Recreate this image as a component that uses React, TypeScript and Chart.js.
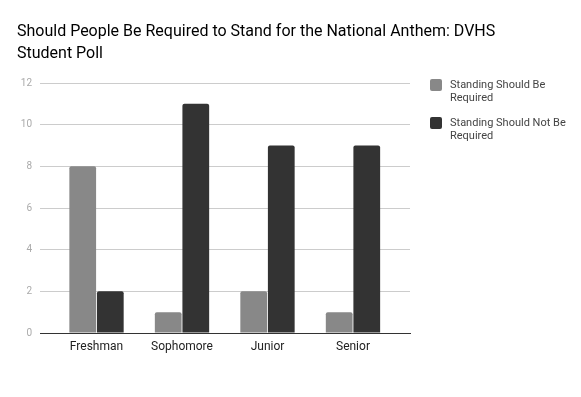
import React, { useEffect, useRef } from "react";
import { Chart, registerables } from "chart.js";

Chart.register(...registerables);

const categories = ["Freshman", "Sophomore", "Junior", "Senior"];
const requiredValues = [8, 1, 2, 1];
const notRequiredValues = [2, 11, 9, 9];
const seriesLabels = ["Standing Should Be Required", "Standing Should Not Be Required"];
const seriesColors = ["#888888", "#333333"];
const titleLines = [
  "Should People Be Required to Stand for the National Anthem: DVHS",
  "Student Poll",
];
const yTicks = [0, 2, 4, 6, 8, 10, 12];

const FONT = "Roboto";

function wrapText(ctx: CanvasRenderingContext2D, text: string, maxWidth: number): string[] {
  const words = text.split(" ");
  const lines: string[] = [];
  let cur = "";
  for (const w of words) {
    const test = cur ? cur + " " + w : w;
    if (ctx.measureText(test).width > maxWidth && cur) {
      lines.push(cur);
      cur = w;
    } else {
      cur = test;
    }
  }
  if (cur) lines.push(cur);
  return lines;
}

const titleAndLegend = {
  id: "titleAndLegend",
  afterDraw(chart: any) {
    const ctx = chart.ctx as CanvasRenderingContext2D;
    ctx.save();
    // title
    ctx.font = `16px ${FONT}`;
    ctx.fillStyle = "#000000";
    ctx.textBaseline = "alphabetic";
    ctx.textAlign = "left";
    titleLines.forEach((ln, i) => ctx.fillText(ln, 17, 36 + i * 22));
    // legend
    ctx.font = `11px ${FONT}`;
    ctx.textBaseline = "middle";
    const boxX = 430;
    const textX = 450;
    let y = 79;
    chart.data.datasets.forEach((ds: any) => {
      ctx.fillStyle = ds.backgroundColor;
      ctx.beginPath();
      (ctx as any).roundRect(boxX, y, 12, 12, 2);
      ctx.fill();
      ctx.fillStyle = "#444444";
      const lines = wrapText(ctx, ds.label, 122);
      lines.forEach((ln, i) => {
        ctx.fillText(ln, textX, y + 6 + i * 13);
      });
      y += 38;
    });
    ctx.restore();
  },
};

export default function App() {
  const ref = useRef<HTMLCanvasElement | null>(null);

  useEffect(() => {
    if (!ref.current) return;
    const mk = (vals: number[]) => vals.map((v, i) => ({ x: i, y: v }));
    const barStyle = {
      borderRadius: { topLeft: 2, topRight: 2, bottomLeft: 0, bottomRight: 0 },
      borderSkipped: false,
      categoryPercentage: 0.645,
      barPercentage: 0.97,
    };
    const chart = new Chart(ref.current, {
      type: "bar",
      data: {
        datasets: [
          { label: seriesLabels[0], data: mk(requiredValues), backgroundColor: seriesColors[0], ...barStyle },
          { label: seriesLabels[1], data: mk(notRequiredValues), backgroundColor: seriesColors[1], ...barStyle },
        ],
      },
      options: {
        responsive: false,
        animation: false,
        layout: { padding: { left: 17, right: 171, top: 83, bottom: 40 } },
        plugins: {
          legend: { display: false },
          tooltip: { enabled: false },
          title: { display: false },
        },
        scales: {
          x: {
            type: "linear",
            offset: false,
            min: -0.661,
            max: 3.667,
            grid: { display: false, drawTicks: false },
            border: { display: true, color: "#333333", width: 1 },
            afterBuildTicks: (scale: any) => {
              scale.ticks = categories.map((_, i) => ({ value: i }));
            },
            afterFit: (scale: any) => {
              scale.height = 24;
            },
            ticks: {
              padding: 7,
              color: "#222222",
              font: { family: FONT, size: 12 },
              autoSkip: false,
              maxRotation: 0,
              callback: (v: any) => categories[Math.round(Number(v))] ?? "",
            },
          },
          y: {
            min: 0,
            max: 12,
            afterBuildTicks: (scale: any) => {
              scale.ticks = yTicks.map((v) => ({ value: v }));
            },
            afterFit: (scale: any) => {
              scale.width = 23;
            },
            border: { display: false },
            grid: {
              drawTicks: false,
              color: (c: any) => (c.tick && c.tick.value === 0 ? "#333333" : "#cccccc"),
            },
            ticks: {
              padding: 8,
              color: "#aaaaaa",
              font: { family: FONT, size: 10 },
            },
          },
        },
      },
      plugins: [titleAndLegend],
    });
    return () => chart.destroy();
  }, []);

  return (
    <div style={{ position: "fixed", left: 0, top: 0, width: 581, height: 397, background: "#fff" }}>
      <canvas ref={ref} width={581} height={397} style={{ display: "block" }} />
    </div>
  );
}
